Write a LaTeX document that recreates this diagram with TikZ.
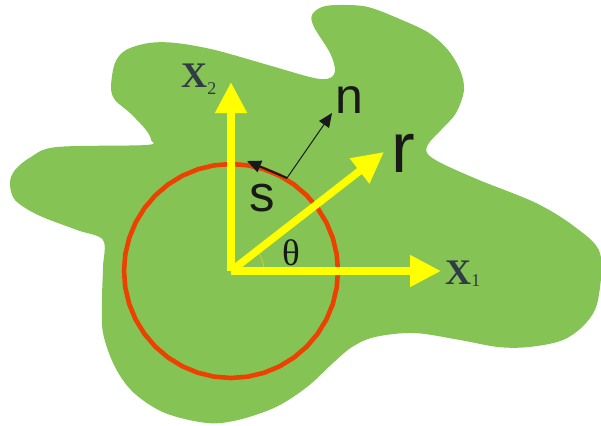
\documentclass[tikz,border=0pt]{standalone}
\usepackage{fontspec}
\usetikzlibrary{arrows.meta}
\newfontfamily\lsans{Liberation Sans}
\newfontfamily\lserif{Liberation Serif}
\definecolor{blobgreen}{HTML}{85C454}
\definecolor{ringred}{HTML}{EC4100}
\definecolor{axisyellow}{HTML}{FFFF00}
\definecolor{labelslate}{HTML}{313B45}
\tikzset{
  axisarrow/.style={draw=axisyellow, line width=7.5pt, -{Triangle[length=31pt,width=30pt,fill=axisyellow]}},
  blackarrow/.style={draw=black!90, -{Triangle[length=14pt,width=12pt]}},
  letter/.style={inner sep=0pt, text=black!90},
  xlab/.style={inner sep=0pt, text=labelslate, font=\lserif\bfseries\fontsize{36}{36}\selectfont},
  xsub/.style={inner sep=0pt, text=labelslate, font=\lserif\fontsize{18}{18}\selectfont}
}
\begin{document}
\begin{tikzpicture}[x=1pt,y=-1pt]
\useasboundingbox (0,0) rectangle (601,425);
% green region
\fill[blobgreen] plot[smooth cycle, tension=0.55] coordinates {
(339,5) (368,7) (402,20) (429,33) (448,50) (460,70) (464,90) (456,113)
(441,130) (429,143) (427,153) (441,163) (479,180) (536,203) (575,227)
(600,253) (598,300) (586,323) (563,340) (529,347) (498,347) (460,340)
(414,333) (375,337) (352,347) (333,363) (307,387) (276,407) (238,420)
(207,423) (165,413) (134,393) (115,367) (103,333) (102,300) (103,267)
(103,240) (77,230) (38,215) (15,200) (10,183) (15,170) (31,157) (57,147)
(146,145) (151,140) (146,130) (130,113) (115,100) (111,87) (115,63)
(126,50) (149,43) (176,43) (215,50) (268,65) (314,78) (330,78) (335,70)
(330,53) (314,27) (312,15) (322,7)};
% coordinates
\coordinate (O) at (231,271);
\coordinate (X1tip) at (441,271);
\coordinate (X2tip) at (231,82);
\coordinate (Rtip) at (384,152);
\coordinate (P) at (287,178);
\coordinate (Ntip) at (332,113);
\coordinate (Stip) at (247,161);
% red ring (polygonal like the original)
\draw[ringred, line width=4.6pt, line join=round]
  plot[samples=41, domain=0:360] ({231+107*cos(\x)},{271+107*sin(\x)}) -- cycle;
% angle mark
\draw[yellow!80!black, line width=0.8pt] (264,271) arc[start angle=0, end angle=-37, radius=33];
% axes and radius
\draw[axisarrow] (O) -- (X1tip);
\draw[axisarrow] (O) -- (X2tip);
\draw[axisarrow] (O) -- (Rtip);
% normal and tangent
\draw[blackarrow, line width=1pt] (P) -- (Ntip);
\draw[blackarrow, line width=2pt] (P) -- (Stip);
% labels
\node[letter, font=\lsans\fontsize{50}{50}\selectfont] (nlab) at (349,100) {n};
\node[letter, font=\lsans\fontsize{71}{71}\selectfont] (rlab) at (403,153) {r};
\node[letter, font=\lsans\fontsize{51}{51}\selectfont] (slab) at (262,198) {s};
\node[letter, font=\lserif\fontsize{37}{37}\selectfont] (thlab) at (291,253) {θ};
\node[xlab] (x1lab) at (458,273) {X};
\node[xsub, anchor=base west] (x1sub) at ([yshift=-2pt]x1lab.base east) {1};
\node[xlab] (x2lab) at (194,76) {X};
\node[xsub, anchor=base west] (x2sub) at ([yshift=-7pt]x2lab.base east) {2};
\end{tikzpicture}
\end{document}
